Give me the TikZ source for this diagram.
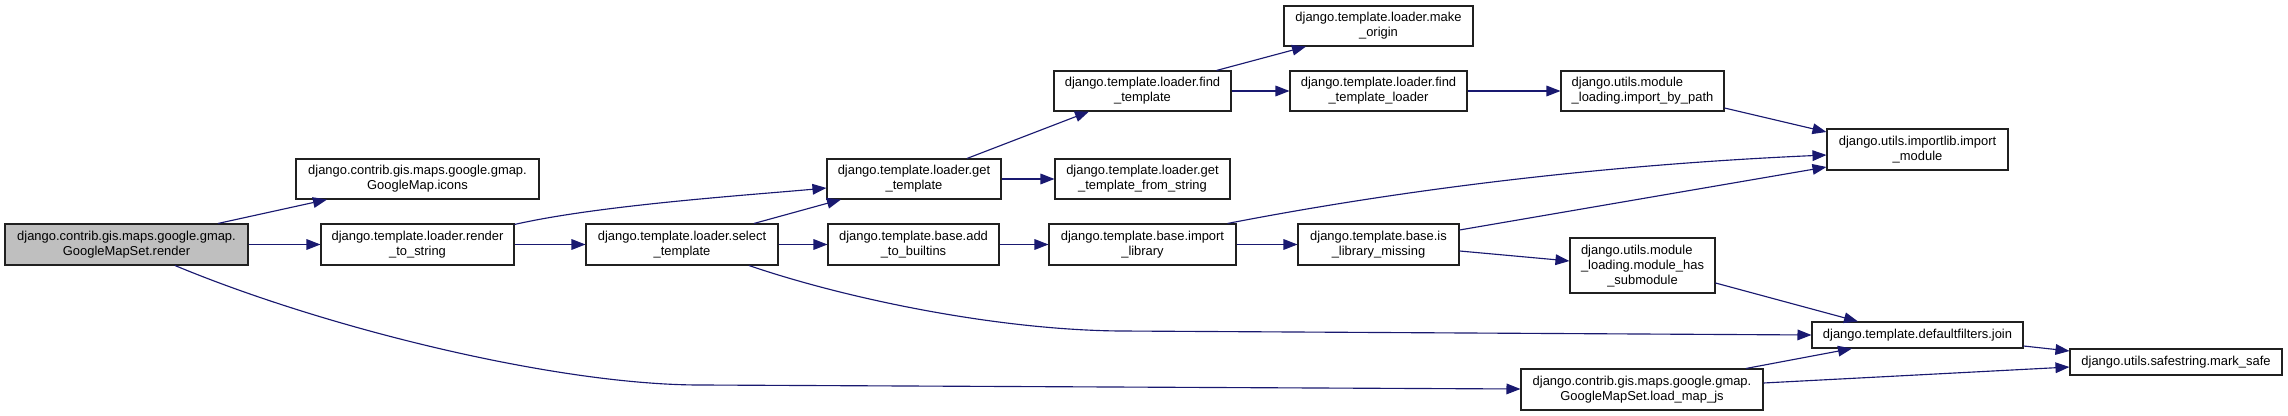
\documentclass[tikz,border=0pt]{standalone}
\usepackage{fontspec}
\setmainfont{Liberation Sans}
\usetikzlibrary{arrows.meta,calc}
\definecolor{edgec}{HTML}{191970}
\definecolor{rootfill}{HTML}{BFBFBF}
\definecolor{boxline}{HTML}{202020}
\begin{document}
\begin{tikzpicture}[x=0.75pt,y=-0.75pt,
  box/.style={draw=boxline, line width=0.8pt, fill=white, inner sep=0pt, align=center,
              font=\fontsize{9.7}{11.25}\selectfont},
  wh/.style 2 args={minimum width=#1*0.75pt, minimum height=#2*0.75pt},
  root/.style={fill=rootfill},
  link/.style={draw=edgec, line width=0.85pt, -{Triangle[length=10.5pt,width=8pt]}}]
\fill[white] (0,0) rectangle (2288,416);
\useasboundingbox (0,0) rectangle (2288,416);

% nodes
\node[box,root,wh={243}{41}] (render) at (126.5,244.5) {django.contrib.gis.maps.google.gmap.\\GoogleMapSet.render};
\node[box,wh={243}{40}] (icons) at (417.5,179) {django.contrib.gis.maps.google.gmap.\\GoogleMap.icons};
\node[box,wh={193}{41}] (rts) at (417.5,244.5) {django.template.loader.render\\\_to\_string};
\node[box,wh={192}{41}] (select) at (682,244.5) {django.template.loader.select\\\_template};
\node[box,wh={174}{40}] (gt) at (914,179) {django.template.loader.get\\\_template};
\node[box,wh={177}{40}] (ft) at (1142.5,91) {django.template.loader.find\\\_template};
\node[box,wh={175}{40}] (gtfs) at (1142.5,179) {django.template.loader.get\\\_template\_from\_string};
\node[box,wh={171}{41}] (atb) at (913.5,244.5) {django.template.base.add\\\_to\_builtins};
\node[box,wh={187}{41}] (il) at (1142.5,244.5) {django.template.base.import\\\_library};
\node[box,wh={189}{40}] (mo) at (1378.5,26) {django.template.loader.make\\\_origin};
\node[box,wh={177}{40}] (ftl) at (1378.5,91) {django.template.loader.find\\\_template\_loader};
\node[box,wh={163}{40},align=left] (ibp) at (1642.5,91) {django.utils.module\\\_loading.import\_by\_path};
\node[box,wh={161}{41}] (ilm) at (1378.5,244.5) {django.template.base.is\\\_library\_missing};
\node[box,wh={145}{55}] (mhs) at (1642.5,265.5) {\begin{tabular}[b]{@{}l@{}}django.utils.module\\\_loading.module\_has\end{tabular}\\\_submodule};
\node[box,wh={181}{41}] (im) at (1917.5,149.5) {django.utils.importlib.import\\\_module};
\node[box,wh={211}{26}] (join) at (1917.5,335) {django.template.defaultfilters.join};
\node[box,wh={212}{26}] (ms) at (2176,362) {django.utils.safestring.mark\_safe};
\node[box,wh={242}{41}] (ljs) at (1642,389.5) {django.contrib.gis.maps.google.gmap.\\GoogleMapSet.load\_map\_js};

\coordinate (bend1) at (700,385);
\coordinate (bend2) at (1120,331);

% edges
\draw[link] ($(render.north)+(91.5,0)$) -- ($(icons.south)+(-90.5,0)$);
\draw[link] (render.east) -- (rts.west);
\draw[link] ($(render.south)+(48.5,0)$) .. controls (330,330) and (560,385) .. (bend1) -- ($(ljs.west)+(0,-0.5)$);
\draw[link] ($(rts.north east)+(0,1)$) .. controls (600,205) and (750,195) .. ($(gt.west)+(0,9)$);
\draw[link] (rts.east) -- (select.west);
\draw[link] ($(select.north)+(72,0)$) -- ($(gt.south)+(-73,0)$);
\draw[link] (select.east) -- (atb.west);
\draw[link] ($(select.south)+(67,0)$) .. controls (850,300) and (1000,330) .. (bend2) -- (join.west);
\draw[link] ($(gt.north)+(53,0)$) -- ($(ft.south)+(-53.5,0)$);
\draw[link] (gt.east) -- (gtfs.west);
\draw[link] ($(ft.north east)+(-15,0)$) -- ($(mo.south)+(-72.5,0)$);
\draw[link] (ft.east) -- (ftl.west);
\draw[link] (ftl.east) -- (ibp.west);
\draw[link] ($(ibp.east)+(0,17)$) -- ($(im.west)+(0,-17.5)$);
\draw[link] ($(il.north east)+(-9,0)$) .. controls (1400,190) and (1600,165) .. ($(im.west)+(0,5.5)$);
\draw[link] ($(ilm.east)+(0,-14.5)$) -- ($(im.west)+(0,17.5)$);
\draw[link] (atb.east) -- (il.west);
\draw[link] (il.east) -- (ilm.west);
\draw[link] ($(ilm.east)+(0,6.5)$) -- ($(mhs.west)+(0,-4.5)$);
\draw[link] ($(mhs.east)+(0,17.5)$) -- ($(join.north)+(-59.5,0)$);
\draw[link] ($(join.east)+(0,11)$) -- ($(ms.west)+(0,-11)$);
\draw[link] ($(ljs.north)+(104,0)$) -- ($(join.south)+(-65.5,0)$);
\draw[link] ($(ljs.east)+(0,-6.5)$) -- ($(ms.west)+(0,5)$);
\end{tikzpicture}
\end{document}
